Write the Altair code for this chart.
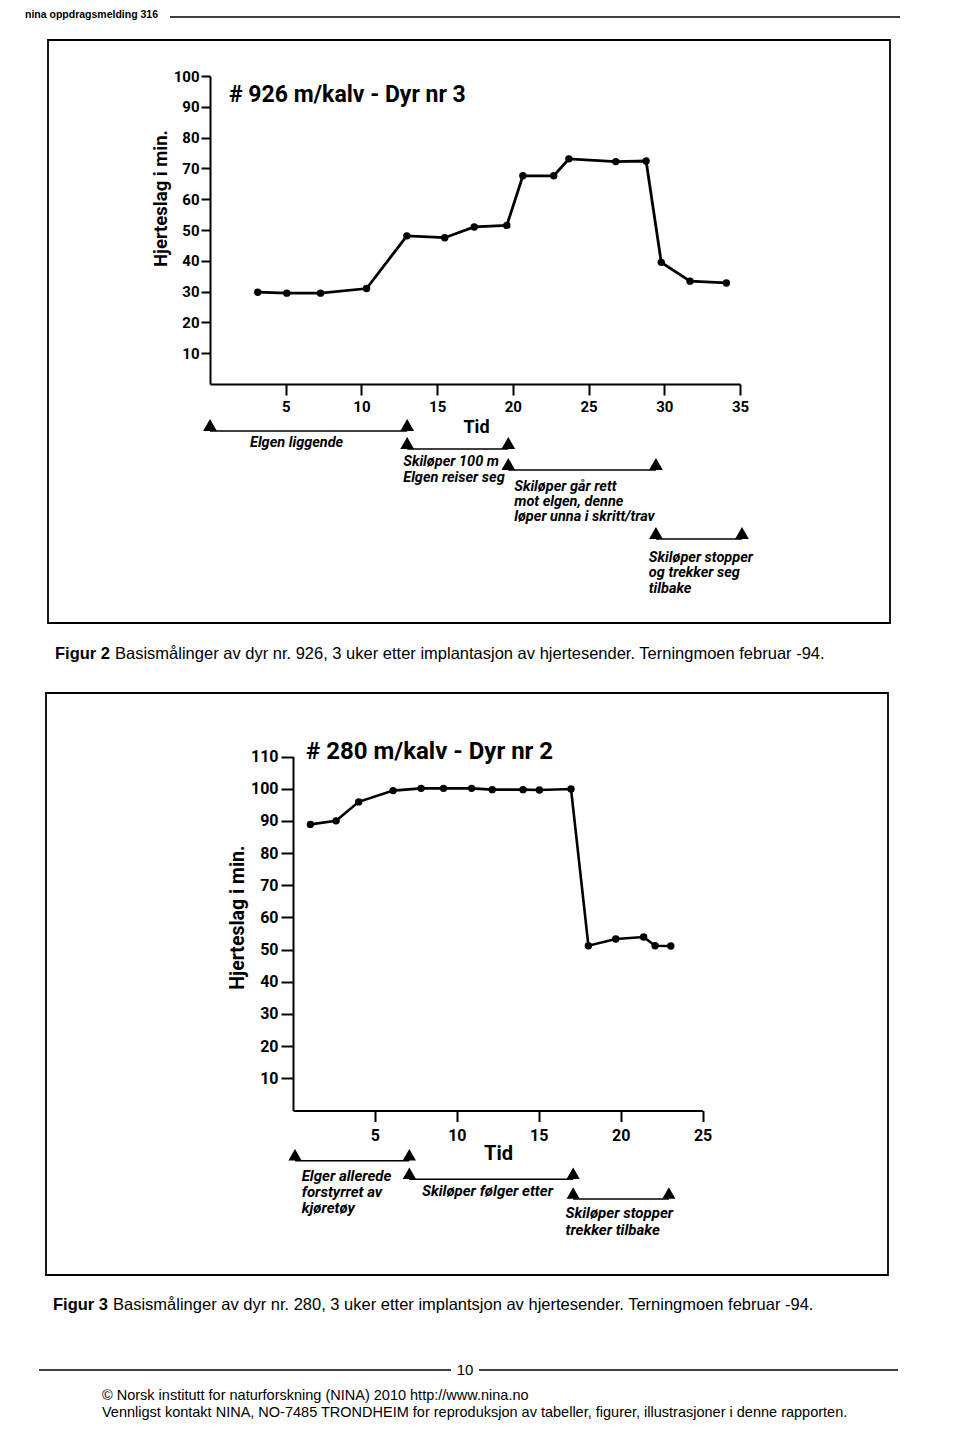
import altair as alt
import pandas as pd

W, H = 940, 1412
M = 8  # page margin; chart coordinates = page coordinates - M

CHART_FONT = "Roboto"
SANS = "Liberation Sans"

# ---------------- Figure 2 data ----------------
fig2_title = "# 926 m/kalv - Dyr nr 3"
fig2_time = [3.15, 5.07, 7.3, 10.34, 13.0, 15.5, 17.45, 19.6, 20.66, 22.7, 23.7, 26.8, 28.8, 29.8, 31.7, 34.1]
fig2_rate = [29.8, 29.5, 29.5, 31.0, 48.1, 47.5, 51.0, 51.5, 67.6, 67.6, 73.1, 72.2, 72.4, 39.5, 33.4, 32.8]
fig2_xticks = [5, 10, 15, 20, 25, 30, 35]
fig2_yticks = [10, 20, 30, 40, 50, 60, 70, 80, 90, 100]
fig2_phase_start = [0.0, 13.02, 19.7, 29.45]
fig2_phase_end = [13.02, 19.7, 29.45, 35.13]
fig2_phase_label_time = [2.64, 12.76, 20.09, 28.98]
fig2_phase_labels = [
    ["Elgen liggende"],
    ["Skiløper 100 m", "Elgen reiser seg"],
    ["Skiløper går rett", "mot elgen, denne", "løper unna i skritt/trav"],
    ["Skiløper stopper", "og trekker seg", "tilbake"],
]
fig2_caption_bold = "Figur 2"
fig2_caption = "Basismålinger av dyr nr. 926, 3 uker etter implantasjon av hjertesender. Terningmoen februar -94."

# ---------------- Figure 3 data ----------------
fig3_title = "# 280 m/kalv - Dyr nr 2"
fig3_time = [1.06, 2.63, 4.01, 6.11, 7.82, 9.19, 10.9, 12.16, 14.04, 15.04, 16.97, 18.03, 19.7, 21.4, 22.1, 23.06]
fig3_rate = [88.9, 90.0, 95.9, 99.4, 100.1, 100.1, 100.1, 99.7, 99.7, 99.6, 99.9, 51.2, 53.3, 53.9, 51.2, 51.1]
fig3_xticks = [5, 10, 15, 20, 25]
fig3_yticks = [10, 20, 30, 40, 50, 60, 70, 80, 90, 100, 110]
fig3_phase_start = [0.12, 7.1, 17.1]
fig3_phase_end = [7.1, 17.1, 22.94]
fig3_phase_label_time = [0.53, 7.87, 16.63]
fig3_phase_labels = [
    ["Elger allerede", "forstyrret av", "kjøretøy"],
    ["Skiløper følger etter"],
    ["Skiløper  stopper", "trekker tilbake"],
]
fig3_caption_bold = "Figur 3"
fig3_caption = "Basismålinger av dyr nr. 280, 3 uker etter implantsjon av hjertesender. Terningmoen februar -94."

# ---------------- page texts ----------------
header_text = "nina oppdragsmelding 316"
page_number = "10"
footer_lines = [
    "© Norsk institutt for naturforskning (NINA) 2010 http://www.nina.no",
    "Vennligst kontakt NINA, NO-7485 TRONDHEIM for reproduksjon av tabeller, figurer, illustrasjoner i denne rapporten.",
]
y_title = "Hjerteslag i min."
x_title = "Tid"

dummy = pd.DataFrame({"d": [0]})


def text_at(txt, px, py, size, font=SANS, weight="normal", style="normal", align="left", baseline="middle"):
    return alt.Chart(dummy).mark_text(
        text=txt, font=font, fontSize=size, fontWeight=weight, fontStyle=style,
        align=align, baseline=baseline, color="black",
    ).encode(x=alt.value(px - M), y=alt.value(py - M))


def hrule(px1, px2, py, width=1.5):
    return alt.Chart(dummy).mark_rule(color="black", strokeWidth=width).encode(
        x=alt.value(px1 - M), x2=alt.value(px2 - M), y=alt.value(py - M))


def box(px1, py1, px2, py2):
    return alt.Chart(dummy).mark_rect(fillOpacity=0, stroke="black", strokeWidth=1.8).encode(
        x=alt.value(px1 - M), x2=alt.value(px2 - M), y=alt.value(py1 - M), y2=alt.value(py2 - M))


def figure(time, rate, xdom, ydom, xpix, ypix, xticks, yticks, st, phases):
    xscale = alt.Scale(domain=xdom, range=[xpix[0] - M, xpix[1] - M], nice=False, zero=False)
    yscale = alt.Scale(domain=ydom, range=[ypix[0] - M, ypix[1] - M], nice=False, zero=False)
    xaxis = alt.Axis(
        orient="bottom", offset=(ypix[0] - M) - H, values=xticks, grid=False,
        domainColor="black", domainWidth=2, tickColor="black", tickWidth=2, tickSize=st["xtick"],
        labelColor="black", labelFont=CHART_FONT, labelFontSize=st["xlab"], labelFontWeight="bold",
        labelPadding=st["xpad"], labelFlush=False, labelOverlap=False,
        title=x_title, titleColor="black", titleFont=CHART_FONT, titleFontSize=st["tid"], titleFontWeight="bold",
        titleAlign="center", titleBaseline="middle", titleX=st["tidx"] - M, titleY=st["tidy"] - ypix[0],
    )
    yaxis = alt.Axis(
        orient="left", offset=-(xpix[0] - M), values=yticks, grid=False,
        domainColor="black", domainWidth=2, tickColor="black", tickWidth=2, tickSize=st["ytick"],
        labelColor="black", labelFont=CHART_FONT, labelFontSize=st["ylab"], labelFontWeight="bold",
        labelPadding=st["ypad"], labelFlush=False, labelOverlap=False,
        title=y_title, titleColor="black", titleFont=CHART_FONT, titleFontSize=st["ytitle"], titleFontWeight="bold",
        titleAngle=270, titleAlign="center", titleBaseline="middle",
        titleX=st["ytx"] - xpix[0], titleY=st["yty"] - M,
    )
    X = alt.X("t:Q", scale=xscale, axis=xaxis)
    Y = alt.Y("hr:Q", scale=yscale, axis=yaxis)
    df = pd.DataFrame({"t": time, "hr": rate})
    layers = [
        alt.Chart(df).mark_line(color="black", strokeWidth=st["lw"]).encode(x=X, y=Y),
        alt.Chart(df).mark_circle(color="black", opacity=1, size=st["dot"]).encode(x=X, y=Y),
    ]
    starts, ends, label_t, labels, row_y, label_y = phases
    for i in range(len(starts)):
        seg = pd.DataFrame({"t": [starts[i]], "t2": [ends[i]]})
        layers.append(alt.Chart(seg).mark_rule(color="black", strokeWidth=1.6).encode(
            x=X, x2="t2:Q", y=alt.value(row_y[i] - M)))
        tri = pd.DataFrame({"t": [starts[i], ends[i]]})
        layers.append(alt.Chart(tri).mark_point(
            shape="triangle-up", filled=True, opacity=1, color="black", size=st["tri"]).encode(
            x=X, y=alt.value(row_y[i] - M - st["tri_up"])))
        for j, line in enumerate(labels[i]):
            lab = pd.DataFrame({"t": [label_t[i]], "label": [line]})
            layers.append(alt.Chart(lab).mark_text(
                align="left", baseline="middle", font=CHART_FONT, fontSize=st["ann"],
                fontWeight="bold", fontStyle="italic", color="black").encode(
                x=X, y=alt.value(label_y[i][j] - M), text="label:N"))
    return alt.layer(*layers)


st2 = dict(xtick=11, xlab=15, xpad=4, tid=18, tidx=476, tidy=427,
           ytick=9, ylab=15, ypad=2, ytitle=18.5, ytx=160, yty=198,
           lw=2.8, dot=55, tri=190, tri_up=6, ann=14.5)
fig2 = figure(
    fig2_time, fig2_rate, [0, 35], [0, 100], [210, 740], [384, 76], fig2_xticks, fig2_yticks, st2,
    (fig2_phase_start, fig2_phase_end, fig2_phase_label_time, fig2_phase_labels,
     [431, 449, 470, 539],
     [[443], [462, 478], [487, 502, 517], [558, 573, 589]]),
)

st3 = dict(xtick=11, xlab=16, xpad=6, tid=20, tidx=498, tidy=1153,
           ytick=12, ylab=16, ypad=3, ytitle=19.5, ytx=237, yty=917,
           lw=2.6, dot=55, tri=175, tri_up=6, ann=15)
fig3 = figure(
    fig3_time, fig3_rate, [0, 25], [0, 110], [293, 702.6], [1110.5, 756.5], fig3_xticks, fig3_yticks, st3,
    (fig3_phase_start, fig3_phase_end, fig3_phase_label_time, fig3_phase_labels,
     [1160.7, 1179.3, 1199],
     [[1176, 1192, 1208], [1191], [1213, 1230]]),
)

decor = [
    text_at(header_text, 25, 18, 10.5, weight="bold", baseline="alphabetic"),
    hrule(170, 900, 17, 1.4),
    box(48, 40, 890, 623),
    text_at(fig2_title, 229, 102, 23, font=CHART_FONT, weight="bold", baseline="alphabetic"),
    text_at(fig2_caption_bold, 55, 654, 16.5, weight="bold"),
    text_at(fig2_caption, 115, 654, 16.5),
    box(46, 693, 888, 1275),
    text_at(fig3_title, 306, 759, 24, font=CHART_FONT, weight="bold", baseline="alphabetic"),
    text_at(fig3_caption_bold, 53, 1305, 16.5, weight="bold"),
    text_at(fig3_caption, 113, 1305, 16.5),
    hrule(39, 451, 1370, 1.4),
    hrule(479, 898, 1370, 1.4),
    text_at(page_number, 465, 1370, 15, align="center"),
    text_at(footer_lines[0], 102, 1396, 14.5),
    text_at(footer_lines[1], 102, 1413, 14.5),
]

chart = alt.layer(*decor, fig2, fig3).resolve_scale(
    x="independent", y="independent"
).properties(
    width=W, height=H, padding=0, autosize=alt.AutoSizeParams(type="none")
).configure_view(stroke=None)

chart.save("out.html", embed_options={"renderer": "svg", "actions": False})
